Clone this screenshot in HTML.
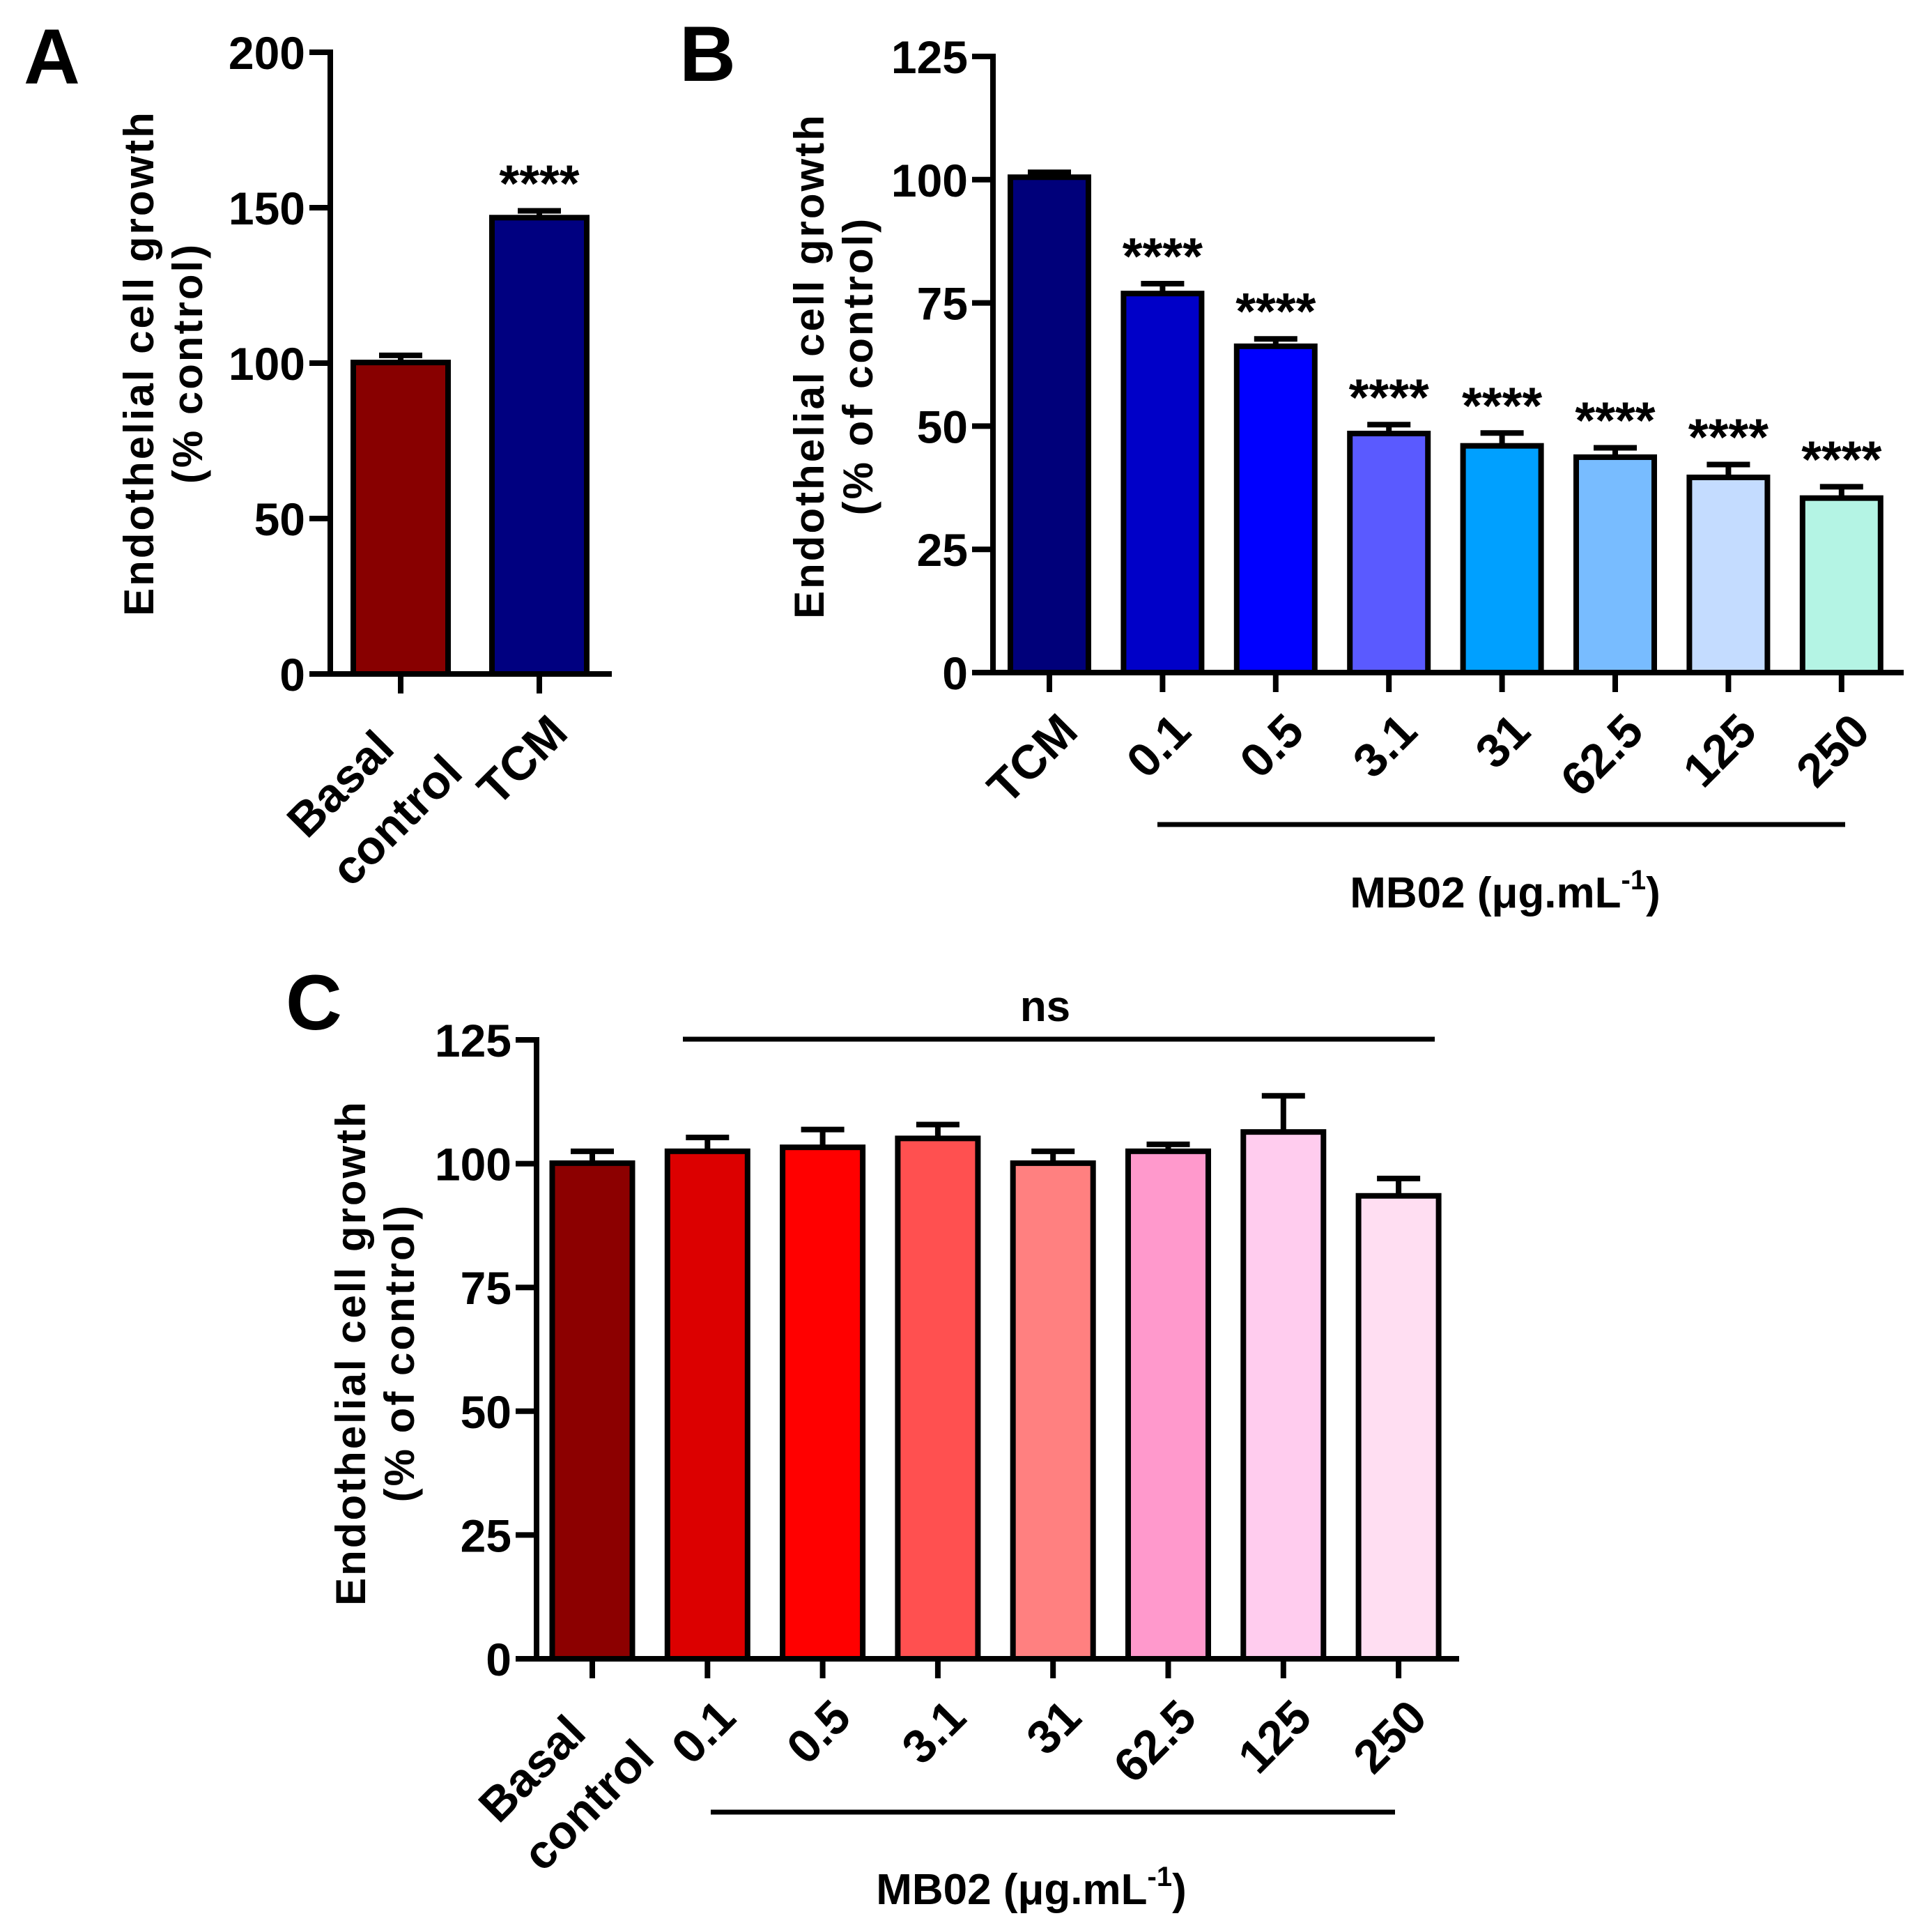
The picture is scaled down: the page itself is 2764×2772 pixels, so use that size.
<!DOCTYPE html>
<html><head><meta charset="utf-8"><style>
html,body{margin:0;padding:0;background:#fff;}
svg{display:block;font-family:"Liberation Sans",Arial,sans-serif;font-weight:bold;}
</style></head>
<body>
<svg id="fig" width="2764" height="2772" viewBox="0 0 2764 2772" xmlns="http://www.w3.org/2000/svg">
<rect width="2764" height="2772" fill="#fff"/>
<text x="34" y="120" font-size="112">A</text>
<text x="975" y="116" font-size="112">B</text>
<text x="410" y="1477" font-size="112">C</text>
</svg>
<script>
// Panel A data
const catsA = [["Basal","control"],["TCM"]];
const valsA = [100.2, 146.8];
const errsA = [102.5, 149];
const colsA = ["#880000","#000080"];
const starsA = ["", "****"];
const ticksA = [0,50,100,150,200];
// Panel B data
const catsB = [["TCM"],["0.1"],["0.5"],["3.1"],["31"],["62.5"],["125"],["250"]];
const valsB = [100.5, 76.9, 66.2, 48.5, 46, 43.7, 39.6, 35.4];
const errsB = [101.5, 78.9, 67.7, 50.3, 48.6, 45.6, 42.2, 37.7];
const colsB = ["#00007a","#0000c8","#0000ff","#5a5aff","#00a0ff","#78bcff","#c4dcff","#b4f4e4"];
const starsB = ["","****","****","****","****","****","****","****"];
const ticksB = [0,25,50,75,100,125];
// Panel C data
const catsC = [["Basal","control"],["0.1"],["0.5"],["3.1"],["31"],["62.5"],["125"],["250"]];
const valsC = [100.1, 102.5, 103.3, 105.1, 100.1, 102.5, 106.4, 93.5];
const errsC = [102.5, 105.3, 106.9, 107.9, 102.5, 103.9, 113.7, 97];
const colsC = ["#8c0000","#dc0000","#ff0000","#ff5050","#ff8080","#ff99cc","#ffccee","#ffdef2"];
const ticksC = [0,25,50,75,100,125];

const svg = document.getElementById('fig');
const NS = "http://www.w3.org/2000/svg";
function mk(tag, attrs, parent){
  const e = document.createElementNS(NS, tag);
  for (const k in attrs) e.setAttribute(k, attrs[k]);
  (parent||svg).appendChild(e);
  return e;
}

function panel(p){
  const g = mk('g', {});
  
  
  const y = v => p.y0 - (v - p.ymin) / (p.ymax - p.ymin) * (p.y0 - p.ytop);
  const x = i => p.x1 + i * p.step;
  p.vals.forEach((v, i) => {
    const cx = x(i);
    const eb = mk('line', {x1:cx, x2:cx, y1:y(v), y2:y(p.errs[i]), stroke:'#000', 'stroke-width':8}, g);
    
    
    const cap = mk('line', {x1:cx-31, x2:cx+31, y1:y(p.errs[i]), y2:y(p.errs[i]), stroke:'#000', 'stroke-width':8}, g);
    
    
    const r = mk('rect', {x:cx-p.bw/2, y:y(v), width:p.bw, height:p.y0-y(v), fill:p.cols[i], stroke:'#000', 'stroke-width':8}, g);
    
    
    if (p.stars && p.stars[i]) {
      const s = mk('text', {x:cx, y:y(p.errs[i]) - 14, 'font-size':74, 'text-anchor':'middle'}, g);
      s.textContent = p.stars[i];
      
      
    }
    const t = mk('line', {x1:cx, x2:cx, y1:p.y0, y2:p.y0+28, stroke:'#000', 'stroke-width':8}, g);
    
    
    const lines = p.cats[i];
    lines.forEach((ln, j) => {
      let bx, by;
      if (lines.length > 1) {
        bx = cx + (j === 0 ? -6 : 92);
        by = p.y0 + (j === 0 ? 110 : 145);
      } else {
        bx = cx + 44; by = p.y0 + 88;
      }
      const tl = mk('text', {x:bx, y:by, 'font-size':68, 'text-anchor':'end', transform:`rotate(-45 ${bx} ${by})`}, g);
      tl.textContent = ln;
      
      
    });
  });
  const ya = mk('line', {x1:p.ax, x2:p.ax, y1:p.ytop-4, y2:p.y0+4, stroke:'#000', 'stroke-width':8}, g);
  
  
  const xa = mk('line', {x1:p.ax-4, x2:p.xend, y1:p.y0, y2:p.y0, stroke:'#000', 'stroke-width':8}, g);
  
  
  p.ticks.forEach(tv => {
    const tk = mk('line', {x1:p.ax-30, x2:p.ax, y1:y(tv), y2:y(tv), stroke:'#000', 'stroke-width':8}, g);
    
    
    const tl = mk('text', {x:p.ax-36, y:y(tv)+24, 'font-size':66, 'text-anchor':'end'}, g);
    tl.textContent = tv;
    
    
  });
  const tcx = p.titleX, tcy = p.titleY;
  [p.title1, p.title2].forEach((ln, j) => {
    const xx = tcx + j * 70;
    const t = mk('text', {x:xx, y:tcy, 'font-size':60, 'letter-spacing':3, 'text-anchor':'middle', transform:`rotate(-90 ${xx} ${tcy})`}, g);
    t.textContent = ln;
    
    
  });
  return g;
}

panel({name:'panel-a', cats:catsA, vals:valsA, errs:errsA, cols:colsA, stars:starsA, ticks:ticksA,
  ymin:0, ymax:200, y0:967, ytop:75, ax:474, xend:878, x1:575, step:199, bw:136,
  title1:'Endothelial cell growth', title2:'(% control)', titleX:220, titleY:521});
panel({name:'panel-b', cats:catsB, vals:valsB, errs:errsB, cols:colsB, stars:starsB, ticks:ticksB,
  ymin:0, ymax:125, y0:965, ytop:81, ax:1425, xend:2732, x1:1506, step:162.4, bw:112,
  title1:'Endothelial cell growth', title2:'(% of control)', titleX:1182, titleY:525});
panel({name:'panel-c', cats:catsC, vals:valsC, errs:errsC, cols:colsC, stars:null, ticks:ticksC,
  ymin:0, ymax:125, y0:2380, ytop:1492, ax:770, xend:2094, x1:850, step:165.3, bw:115,
  title1:'Endothelial cell growth', title2:'(% of control)', titleX:524, titleY:1941});

function line(x1,y1,x2,y2,name){
  const l = mk('line', {x1, y1, x2, y2, stroke:'#000', 'stroke-width':7});
  
  
}
function text(x,y,s,name,sup){
  const t = mk('text', {x, y, 'font-size':62, 'text-anchor':'middle'});
  
  
  t.textContent = s;
  if (sup){
    const ts = mk('tspan', {'font-size':40, dy:-26}, t); ts.textContent = sup;
    const te = mk('tspan', {dy:26}, t); te.textContent = ')';
  }
}
line(1661,1183,2648,1183,'mb02-bracket-b');
text(2160,1302,'MB02 (\u03BCg.mL','mb02-label-b','-1');
line(980,1491,2059,1491,'ns-bracket');
text(1500,1465,'ns','ns-label');
line(1020,2600,2002,2600,'mb02-bracket-c');
text(1480,2732,'MB02 (\u03BCg.mL','mb02-label-c','-1');
</script>
</body></html>
